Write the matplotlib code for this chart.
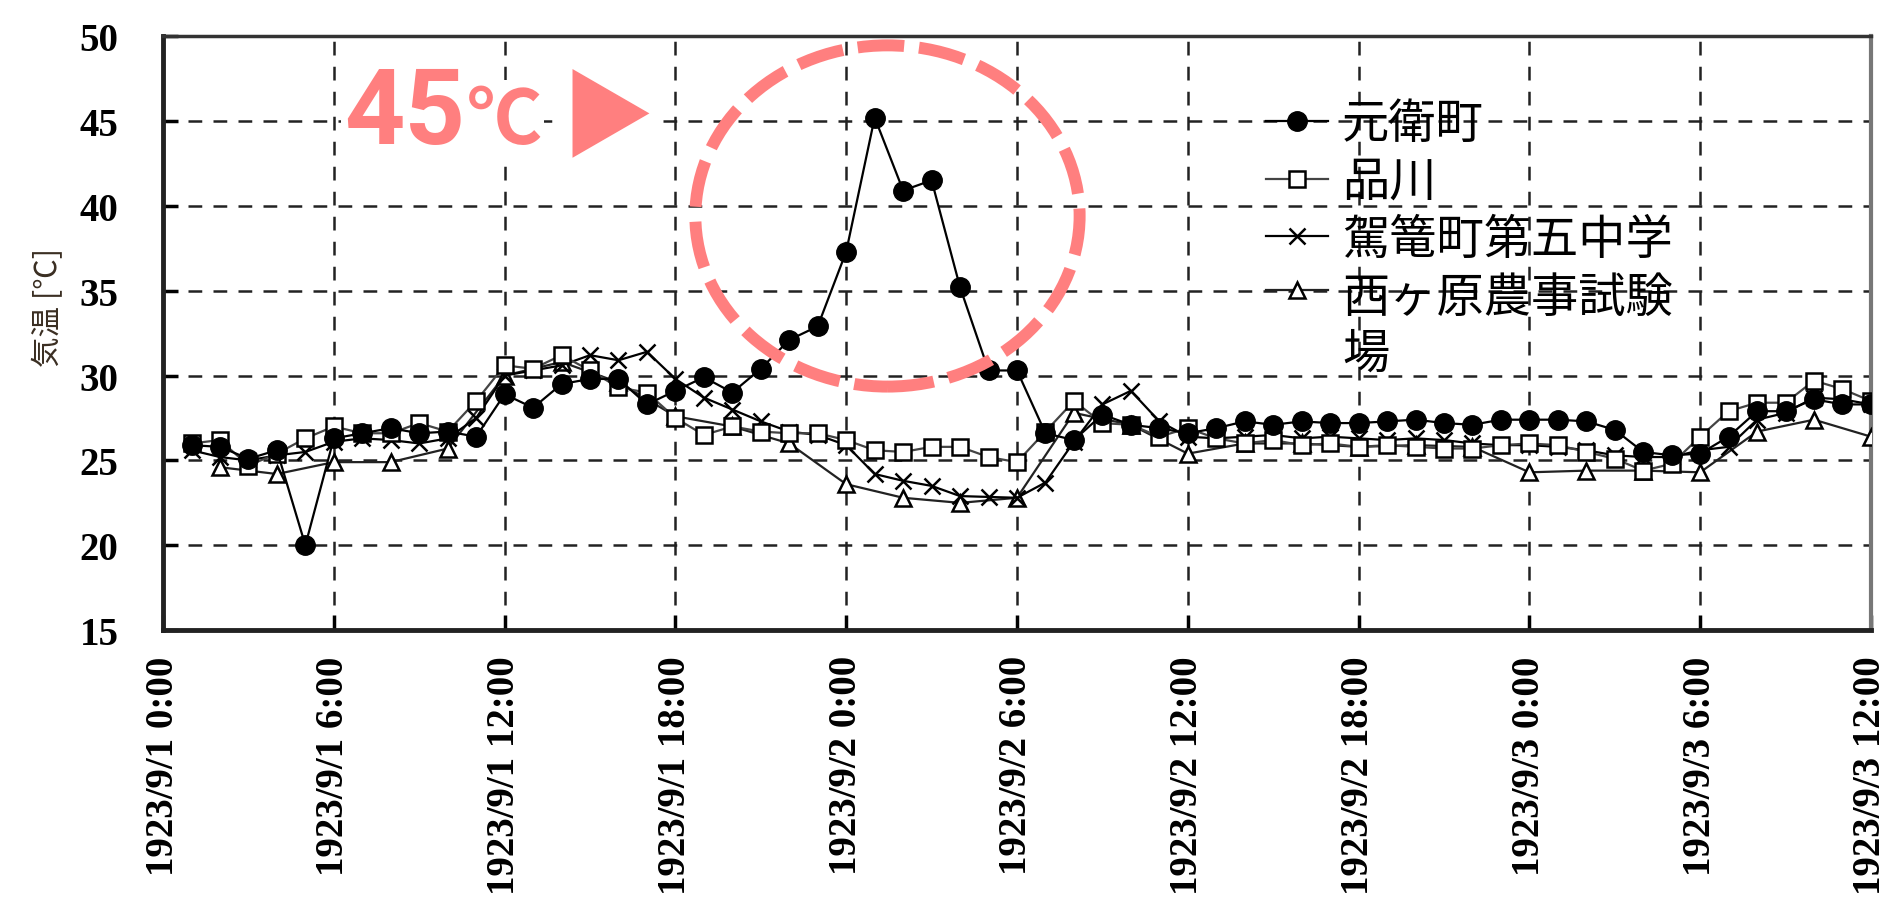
import numpy as np
import matplotlib.pyplot as plt
from matplotlib.patches import Ellipse

plt.rcParams['font.family'] = ['Noto Sans CJK JP', 'DejaVu Sans']

# horas desde 1923/9/1 0:00 (datos cada hora, el triangulo cada 2 horas)
hours = np.arange(1, 61)
hours_even = np.arange(2, 61, 2)

motoe = [25.9, 25.8, 25.1, 25.6, 20.0, 26.3, 26.6, 26.9, 26.6, 26.7,
         26.4, 28.9, 28.1, 29.5, 29.8, 29.8, 28.3, 29.1, 29.9, 29.0,
         30.4, 32.1, 32.9, 37.3, 45.2, 40.9, 41.5, 35.2, 30.3, 30.3,
         26.6, 26.2, 27.7, 27.1, 26.9, 26.6, 26.9, 27.3, 27.1, 27.3,
         27.2, 27.2, 27.3, 27.4, 27.2, 27.1, 27.4, 27.4, 27.4, 27.3,
         26.8, 25.5, 25.3, 25.4, 26.4, 27.9, 27.9, 28.6, 28.3, 28.3]
shinagawa = [26.0, 26.2, 24.7, 25.4, 26.3, 27.0, 26.6, 26.6, 27.2, 26.7,
             28.5, 30.6, 30.4, 31.2, 30.3, 29.3, 29.0, 27.5, 26.5, 27.0,
             26.7, 26.6, 26.6, 26.2, 25.6, 25.5, 25.8, 25.8, 25.2, 24.9,
             26.7, 28.5, 27.2, 27.1, 26.4, 26.9, 26.3, 26.0, 26.2, 25.9,
             26.0, 25.8, 25.9, 25.8, 25.7, 25.7, 25.9, 26.0, 25.9, 25.5,
             25.1, 24.4, 24.8, 26.4, 27.9, 28.4, 28.4, 29.7, 29.2, 28.5]
komagome = [25.6, 25.2, 25.0, 25.3, 25.5, 26.1, 26.3, 26.2, 26.0, 26.3,
            27.5, 30.0, 30.3, 30.6, 31.2, 30.9, 31.4, 29.8, 28.7, 28.0,
            27.3, 26.7, 26.5, 25.9, 24.2, 23.8, 23.5, 22.9, 22.85, 22.8,
            23.7, 26.1, 28.3, 29.1, 27.3, 26.4, 26.3, 26.4, 26.5, 26.3,
            26.4, 26.3, 26.2, 26.3, 26.2, 26.0, 25.9, 25.9, 25.8, 25.6,
            25.3, 25.2, 25.2, 25.6, 25.8, 27.4, 27.8, 28.7, 28.6, 28.3]
nishigahara = [24.6, 24.2, 24.9, 24.9, 25.7, 30.0, 30.8, 29.6, 27.6, 27.0,
               26.0, 23.6, 22.8, 22.5, 22.8, 27.8, 27.1, 25.4, 26.0, 26.0,
               25.8, 25.9, 25.8, 24.3, 24.4, 24.4, 24.3, 26.7, 27.4, 26.4]

series_labels = ['元衛町', '品川', '駕篭町第五中学', '西ヶ原農事試験\n場']
tick_hours = [0, 6, 12, 18, 24, 30, 36, 42, 48, 54, 60]
tick_labels = ['1923/9/1 0:00', '1923/9/1 6:00', '1923/9/1 12:00', '1923/9/1 18:00',
               '1923/9/2 0:00', '1923/9/2 6:00', '1923/9/2 12:00', '1923/9/2 18:00',
               '1923/9/3 0:00', '1923/9/3 6:00', '1923/9/3 12:00']
y_ticks = [15, 20, 25, 30, 35, 40, 45, 50]

fig, ax = plt.subplots(figsize=(18.87, 9.03), dpi=100)
fig.subplots_adjust(left=0.0864, right=0.9915, top=0.959, bottom=0.301)

ax.plot(hours, motoe, '-o', color='black', lw=1.6, ms=14, zorder=6, label=series_labels[0])
ax.plot(hours, shinagawa, '-s', color='#444444', mfc='white', mec='black', mew=1.8, ms=11,
        lw=1.6, zorder=5, label=series_labels[1])
ax.plot(hours, komagome, '-x', color='black', ms=12, mew=1.8, lw=1.6, zorder=4, label=series_labels[2])
ax.plot(hours_even, nishigahara, '-^', color='#222222', mfc='white', mec='black', mew=1.8, ms=11,
        lw=1.6, zorder=3, label=series_labels[3])

ax.set_xlim(0, 60)
ax.set_ylim(15, 50)
ax.set_xticks(tick_hours)
ax.set_xticklabels(tick_labels, rotation=90)
ax.set_yticks(y_ticks)
ax.grid(True, color='#222222', lw=1.8, linestyle=(0, (5.5, 4.5)))
ax.set_axisbelow(True)

ax.tick_params(direction='in', length=11, width=2.5, labelsize=28, labelfontfamily='Liberation Serif')
ax.tick_params(axis='x', pad=18)
ax.tick_params(axis='y', pad=32)
for t in ax.get_xticklabels() + ax.get_yticklabels():
    t.set_fontweight('bold')

for side, w, c in [('left', 3.5, '#222222'), ('bottom', 3.5, '#222222'),
                   ('top', 2.5, '#333333'), ('right', 3.0, '#777777')]:
    ax.spines[side].set_linewidth(w)
    ax.spines[side].set_color(c)

ax.set_ylabel('気温 [℃]', fontsize=22, color='#3a2e22')
ax.yaxis.set_label_coords(-0.058, 0.545)

leg = ax.legend(loc='upper left', bbox_to_anchor=(0.646, 0.893), frameon=False, fontsize=34,
                handlelength=1.3, handletextpad=0.3, borderpad=0, borderaxespad=0,
                labelspacing=0.2)
# la ultima entrada tiene dos lineas: el simbolo va arriba
leg._legend_handle_box.get_children()[0].get_children()[3].align = 'top'

# circulo rosado y texto de 45 grados
pink = '#ff7f7f'
ax.add_patch(Ellipse((25.45, 39.4), 13.5, 20.1, fill=False, ec=pink, lw=8.6,
                     ls=(0, (3.9, 1.25)), zorder=8, clip_on=False))
t45 = ax.text(0.106, 0.82, '45', transform=ax.transAxes, fontsize=76, fontweight='bold',
              color=pink, family=['Roboto', 'DejaVu Sans'], va='baseline', ha='left', zorder=9,
              bbox=dict(fc='white', ec='none', pad=2))
tc = ax.annotate('℃', xy=(1, 0), xycoords=t45, xytext=(1, 4), textcoords='offset points',
                 fontsize=54, fontweight='bold', color=pink,
                 family=['Noto Sans CJK JP', 'DejaVu Sans'],
                 va='bottom', ha='left', zorder=9, bbox=dict(fc='white', ec='none', pad=2))
ax.annotate('▶', xy=(1, 0.5), xycoords=tc, xytext=(14, 0), textcoords='offset points',
            fontsize=68, color=pink, family=['Noto Sans CJK JP', 'DejaVu Sans'],
            va='center', ha='left', zorder=9, bbox=dict(fc='white', ec='none', pad=2))

fig.savefig('out.png', dpi=100)
